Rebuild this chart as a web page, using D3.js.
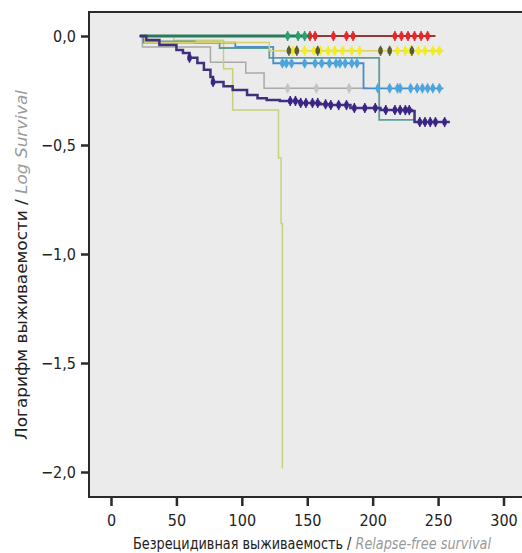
<!DOCTYPE html>
<html>
<head>
<meta charset="utf-8">
<script src="https://cdn.jsdelivr.net/npm/d3@7"></script>
<style>
  body { margin: 0; background: #ffffff; }
  text { font-family: "DejaVu Sans Condensed", "DejaVu Sans", sans-serif; font-stretch: condensed; }
</style>
</head>
<body>
<div id="chart"></div>
<script>
// axis ticks
const xTicks = [0, 50, 100, 150, 200, 250, 300];
const yTicks = [0, -0.5, -1, -1.5, -2];

// Kaplan-Meier step points [time, log survival] per group, end time and censor times
const graySteps = [[22, 0], [24, -0.05], [76, -0.12], [103, -0.17], [117, -0.24]];
const grayEnd = 196;
const grayCensor = [135, 157, 182];

const oliveSteps = [[22, 0], [48, -0.02], [86, -0.15], [93, -0.34], [128, -0.56], [130, -0.86], [131, -1.98]];
const oliveEnd = 131.5;
const oliveCensor = [];

const tealSteps = [[22, 0], [25, -0.025], [64, -0.03], [83, -0.055], [121, -0.1], [205, -0.385]];
const tealEnd = 232;
const tealCensor = [];

const blueSteps = [[22, 0], [25, -0.03], [95, -0.05], [124, -0.125], [193, -0.24]];
const blueEnd = 254;
const blueCensor = [131, 134, 138, 148, 156, 161, 167, 172, 175, 179, 184, 188,
                    204, 213, 219, 221, 229, 234, 238, 242, 246, 251];

const yellowSteps = [[22, 0], [26, -0.03], [121, -0.068]];
const yellowEnd = 254;
const yellowCensor = [139, 142, 148, 155, 160, 166, 171, 177, 184, 190,
                      206, 213, 219, 225, 229, 235, 240, 246, 251];
const yellowDark = [136, 142, 158, 206, 213, 230];

const greenSteps = [[22, 0]];
const greenEnd = 152;
const greenCensor = [135, 143, 148];

const redSteps = [[22, 0]];
const redEnd = 248;
const redCensor = [152, 156, 170, 180, 185, 217, 222, 227, 232, 237, 242];

const purpleSteps = [[22, 0], [27, -0.018], [37, -0.041], [50, -0.064], [55, -0.078], [60, -0.1],
                     [66, -0.124], [71, -0.155], [76, -0.188], [78, -0.211], [86, -0.23], [93, -0.248],
                     [104, -0.271], [112, -0.285], [119, -0.294], [129, -0.298], [144, -0.307],
                     [160, -0.313], [167, -0.317], [183, -0.33], [206, -0.34], [230, -0.344], [232, -0.395]];
const purpleEnd = 259;
const purpleCensor = [60, 78, 137, 141, 145, 149, 154, 158, 164, 168, 174, 180, 186, 194,
                      202, 210, 217, 221, 225, 228, 236, 240, 244, 248, 255];

const W = 522, H = 553;
const box = { left: 89, top: 12, bottom: 497 };

const svg = d3.select("#chart").append("svg")
    .attr("width", W)
    .attr("height", H);

const x = d3.scaleLinear().domain([0, 300]).range([111, 503.5]);
const y = d3.scaleLinear().domain([0, -2]).range([36, 472]);

// plot background and frame
svg.append("rect")
    .attr("x", box.left).attr("y", box.top)
    .attr("width", W - box.left + 10).attr("height", box.bottom - box.top)
    .attr("fill", "#ebebeb");
svg.append("path")
    .attr("d", `M${W + 5},${box.top}H${box.left}V${box.bottom}H${W + 5}`)
    .attr("fill", "none")
    .attr("stroke", "#2a2a2a")
    .attr("stroke-width", 2);

const fmt = d => d3.format(".1f")(d).replace(".", ",");

const yAxis = svg.append("g")
    .attr("transform", `translate(${box.left - 1},0)`)
    .call(d3.axisLeft(y).tickValues(yTicks).tickFormat(fmt).tickSize(7).tickPadding(5));
const xAxis = svg.append("g")
    .attr("transform", `translate(0,${box.bottom + 1})`)
    .call(d3.axisBottom(x).tickValues(xTicks).tickFormat(d3.format("d")).tickSize(8).tickPadding(9));
[yAxis, xAxis].forEach(g => {
    g.select(".domain").remove();
    g.selectAll(".tick line").attr("stroke", "#2a2a2a").attr("stroke-width", 2.5);
    g.selectAll(".tick text").attr("fill", "#222")
        .style("font-family", "'DejaVu Sans Condensed', 'DejaVu Sans', sans-serif")
        .style("font-size", "16px");
});

// step value at time t
function valueAt(steps, t) {
    let v = steps[0][1];
    steps.forEach(s => { if (s[0] <= t) v = s[1]; });
    return v;
}

const line = d3.line()
    .x(d => x(d[0]))
    .y(d => y(d[1]))
    .curve(d3.curveStepAfter);

function drawCurve(steps, end, censor, lineColor, markColor, width) {
    const pts = steps.concat([[end, steps[steps.length - 1][1]]]);
    svg.append("path")
        .datum(pts)
        .attr("d", line)
        .attr("fill", "none")
        .attr("stroke", lineColor)
        .attr("stroke-width", width);
    drawMarks(steps, censor, markColor);
}

function drawMarks(steps, censor, markColor) {
    const g = svg.append("g");
    g.selectAll("line")
        .data(censor)
        .enter()
        .append("line")
        .attr("x1", d => x(d)).attr("x2", d => x(d))
        .attr("y1", d => y(valueAt(steps, d)) - 5)
        .attr("y2", d => y(valueAt(steps, d)) + 5)
        .attr("stroke", markColor)
        .attr("stroke-width", 1.5);
    g.selectAll("ellipse")
        .data(censor)
        .enter()
        .append("ellipse")
        .attr("cx", d => x(d))
        .attr("cy", d => y(valueAt(steps, d)))
        .attr("rx", 2.3).attr("ry", 3.8)
        .attr("fill", markColor);
}

drawCurve(graySteps, grayEnd, grayCensor, "#a9a9a9", "#c4c4c4", 1.5);
drawCurve(oliveSteps, oliveEnd, oliveCensor, "#c9d07c", "#c9d07c", 1.5);
drawCurve(tealSteps, tealEnd, tealCensor, "#5f9c96", "#5f9c96", 1.8);
drawCurve(blueSteps, blueEnd, blueCensor, "#4a8cc8", "#4aa6dc", 1.8);
drawCurve(yellowSteps, yellowEnd, yellowCensor, "#d6d36a", "#f2ee1c", 1.5);
drawMarks(yellowSteps, yellowDark, "#5a5a3a");
drawCurve(redSteps, redEnd, redCensor, "#9a3636", "#e8262a", 2);
drawCurve(greenSteps, greenEnd, greenCensor, "#2b7a5c", "#25a36e", 3);
drawCurve(purpleSteps, purpleEnd, purpleCensor, "#40307e", "#3a2486", 2.5);

// axis titles
const xTitle = svg.append("text")
    .attr("x", 312).attr("y", 549)
    .attr("text-anchor", "middle")
    .attr("textLength", 358)
    .attr("lengthAdjust", "spacingAndGlyphs")
    .style("font-size", "15px");
xTitle.append("tspan").attr("fill", "#222").text("Безрецидивная выживаемость / ");
xTitle.append("tspan").attr("fill", "#9a9a9a").style("font-style", "italic").text("Relapse-free survival");

const yTitle = svg.append("text")
    .attr("transform", "translate(27,265) rotate(-90)")
    .attr("text-anchor", "middle")
    .attr("textLength", 350)
    .attr("lengthAdjust", "spacingAndGlyphs")
    .style("font-size", "15px");
yTitle.append("tspan").attr("fill", "#222").text("Логарифм выживаемости / ");
yTitle.append("tspan").attr("fill", "#9a9a9a").style("font-style", "italic").text("Log Survival");
</script>
</body>
</html>
